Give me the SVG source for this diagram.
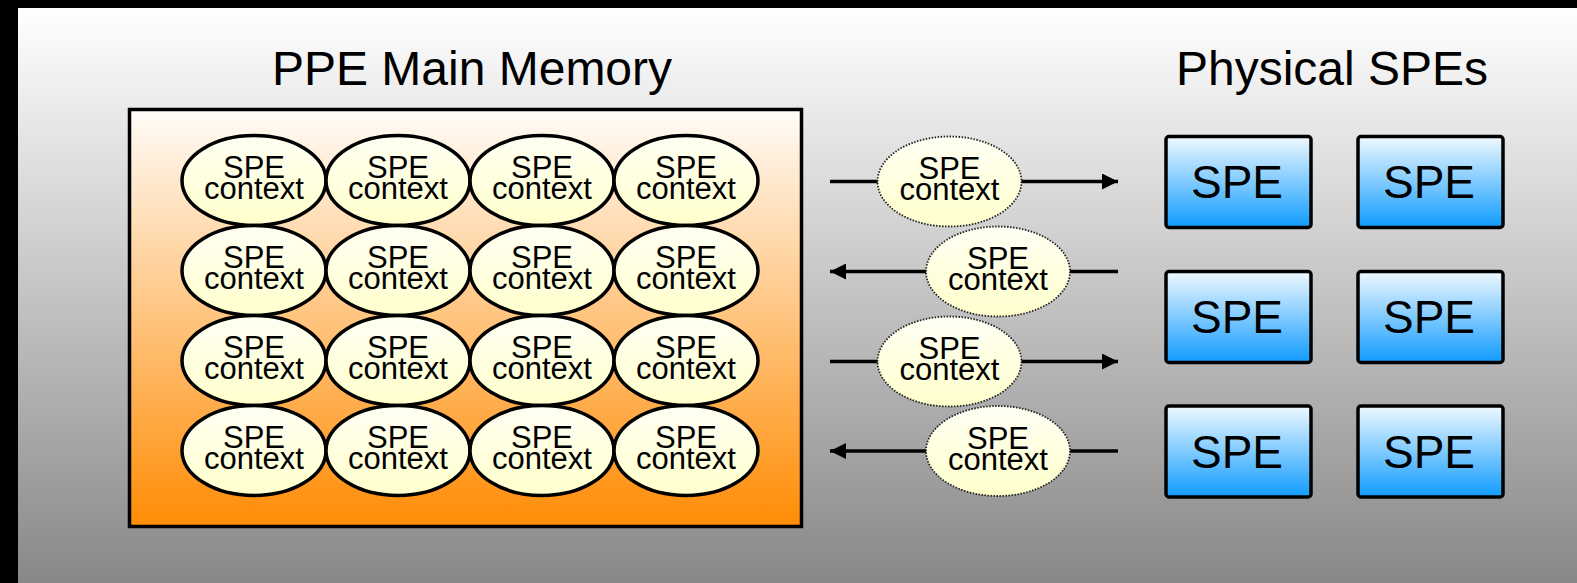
<svg xmlns="http://www.w3.org/2000/svg" width="1577" height="583" viewBox="0 0 1577 583">
<defs>
<linearGradient id="bg" x1="0" y1="0" x2="0" y2="1"><stop offset="0" stop-color="#ffffff"/><stop offset="1" stop-color="#888888"/></linearGradient>
<linearGradient id="mem" x1="0" y1="0" x2="0" y2="1"><stop offset="0" stop-color="#fffcf8"/><stop offset="1" stop-color="#ff8c05"/></linearGradient>
<linearGradient id="ctx" x1="0" y1="0" x2="0" y2="1"><stop offset="0" stop-color="#fffff4"/><stop offset="1" stop-color="#ffffcc"/></linearGradient>
<linearGradient id="spe" x1="0" y1="0" x2="0" y2="1"><stop offset="0" stop-color="#f0f9ff"/><stop offset="1" stop-color="#0f9bff"/></linearGradient>
<marker id="ah" viewBox="0 0 16 16" refX="16" refY="8" markerWidth="16" markerHeight="16" markerUnits="userSpaceOnUse" orient="auto"><path d="M0,0 L16,8 L0,16 Z" fill="#000"/></marker>
</defs>
<style>
.ctx{fill:url(#ctx);stroke:#000;stroke-width:3.5}
.mov{fill:url(#ctx);stroke:#222;stroke-width:1.8;stroke-dasharray:1.5 1.5}
.t{font-family:"Liberation Sans",Arial,sans-serif;fill:#000;text-anchor:middle}
.ct{font-size:31px}
.title{font-size:48px}
.spe{fill:url(#spe);stroke:#000;stroke-width:3.5}
.st{font-size:46px}
.ln{stroke:#000;stroke-width:3.5;fill:none}
</style>
<rect x="0" y="0" width="1577" height="583" fill="#000"/>
<rect x="18" y="8" width="1559" height="575" fill="url(#bg)"/>
<text class="t title" x="472" y="85">PPE Main Memory</text>
<text class="t title" x="1332" y="85">Physical SPEs</text>
<g id="memory">
<rect x="129.5" y="109.5" width="672" height="417" fill="url(#mem)" stroke="#000" stroke-width="3.5"/>
</g>
<g id="contexts">
<g id="c11"><ellipse class="ctx" cx="254" cy="180.5" rx="72" ry="45"/><text class="t ct" x="254" y="178">SPE</text><text class="t ct" x="254" y="199">context</text></g>
<g id="c12"><ellipse class="ctx" cx="398" cy="180.5" rx="72" ry="45"/><text class="t ct" x="398" y="178">SPE</text><text class="t ct" x="398" y="199">context</text></g>
<g id="c13"><ellipse class="ctx" cx="542" cy="180.5" rx="72" ry="45"/><text class="t ct" x="542" y="178">SPE</text><text class="t ct" x="542" y="199">context</text></g>
<g id="c14"><ellipse class="ctx" cx="686" cy="180.5" rx="72" ry="45"/><text class="t ct" x="686" y="178">SPE</text><text class="t ct" x="686" y="199">context</text></g>
<g id="c21"><ellipse class="ctx" cx="254" cy="270.5" rx="72" ry="45"/><text class="t ct" x="254" y="268">SPE</text><text class="t ct" x="254" y="289">context</text></g>
<g id="c22"><ellipse class="ctx" cx="398" cy="270.5" rx="72" ry="45"/><text class="t ct" x="398" y="268">SPE</text><text class="t ct" x="398" y="289">context</text></g>
<g id="c23"><ellipse class="ctx" cx="542" cy="270.5" rx="72" ry="45"/><text class="t ct" x="542" y="268">SPE</text><text class="t ct" x="542" y="289">context</text></g>
<g id="c24"><ellipse class="ctx" cx="686" cy="270.5" rx="72" ry="45"/><text class="t ct" x="686" y="268">SPE</text><text class="t ct" x="686" y="289">context</text></g>
<g id="c31"><ellipse class="ctx" cx="254" cy="360.5" rx="72" ry="45"/><text class="t ct" x="254" y="358">SPE</text><text class="t ct" x="254" y="379">context</text></g>
<g id="c32"><ellipse class="ctx" cx="398" cy="360.5" rx="72" ry="45"/><text class="t ct" x="398" y="358">SPE</text><text class="t ct" x="398" y="379">context</text></g>
<g id="c33"><ellipse class="ctx" cx="542" cy="360.5" rx="72" ry="45"/><text class="t ct" x="542" y="358">SPE</text><text class="t ct" x="542" y="379">context</text></g>
<g id="c34"><ellipse class="ctx" cx="686" cy="360.5" rx="72" ry="45"/><text class="t ct" x="686" y="358">SPE</text><text class="t ct" x="686" y="379">context</text></g>
<g id="c41"><ellipse class="ctx" cx="254" cy="450.5" rx="72" ry="45"/><text class="t ct" x="254" y="448">SPE</text><text class="t ct" x="254" y="469">context</text></g>
<g id="c42"><ellipse class="ctx" cx="398" cy="450.5" rx="72" ry="45"/><text class="t ct" x="398" y="448">SPE</text><text class="t ct" x="398" y="469">context</text></g>
<g id="c43"><ellipse class="ctx" cx="542" cy="450.5" rx="72" ry="45"/><text class="t ct" x="542" y="448">SPE</text><text class="t ct" x="542" y="469">context</text></g>
<g id="c44"><ellipse class="ctx" cx="686" cy="450.5" rx="72" ry="45"/><text class="t ct" x="686" y="448">SPE</text><text class="t ct" x="686" y="469">context</text></g>
</g>
<g id="connectors">
<line class="ln" x1="830" y1="181.5" x2="1118" y2="181.5" marker-end="url(#ah)"/>
<line class="ln" x1="1118" y1="271.5" x2="830" y2="271.5" marker-end="url(#ah)"/>
<line class="ln" x1="830" y1="361.5" x2="1118" y2="361.5" marker-end="url(#ah)"/>
<line class="ln" x1="1118" y1="451" x2="830" y2="451" marker-end="url(#ah)"/>
</g>
<g id="moving">
<g id="m1"><ellipse class="mov" cx="949.5" cy="181.5" rx="72" ry="45"/><text class="t ct" x="949.5" y="179">SPE</text><text class="t ct" x="949.5" y="200">context</text></g>
<g id="m2"><ellipse class="mov" cx="998" cy="271.5" rx="72" ry="45"/><text class="t ct" x="998" y="269">SPE</text><text class="t ct" x="998" y="290">context</text></g>
<g id="m3"><ellipse class="mov" cx="949.5" cy="361.5" rx="72" ry="45"/><text class="t ct" x="949.5" y="359">SPE</text><text class="t ct" x="949.5" y="380">context</text></g>
<g id="m4"><ellipse class="mov" cx="998" cy="451" rx="72" ry="45"/><text class="t ct" x="998" y="448.5">SPE</text><text class="t ct" x="998" y="469.5">context</text></g>
</g>
<g id="spes">
<g id="s11"><rect class="spe" x="1166" y="136.5" width="145" height="91" rx="3"/><text class="t st" x="1237" y="198">SPE</text></g>
<g id="s12"><rect class="spe" x="1358" y="136.5" width="145" height="91" rx="3"/><text class="t st" x="1429" y="198">SPE</text></g>
<g id="s21"><rect class="spe" x="1166" y="271.5" width="145" height="91" rx="3"/><text class="t st" x="1237" y="333">SPE</text></g>
<g id="s22"><rect class="spe" x="1358" y="271.5" width="145" height="91" rx="3"/><text class="t st" x="1429" y="333">SPE</text></g>
<g id="s31"><rect class="spe" x="1166" y="406" width="145" height="91" rx="3"/><text class="t st" x="1237" y="467.5">SPE</text></g>
<g id="s32"><rect class="spe" x="1358" y="406" width="145" height="91" rx="3"/><text class="t st" x="1429" y="467.5">SPE</text></g>
</g>
</svg>
